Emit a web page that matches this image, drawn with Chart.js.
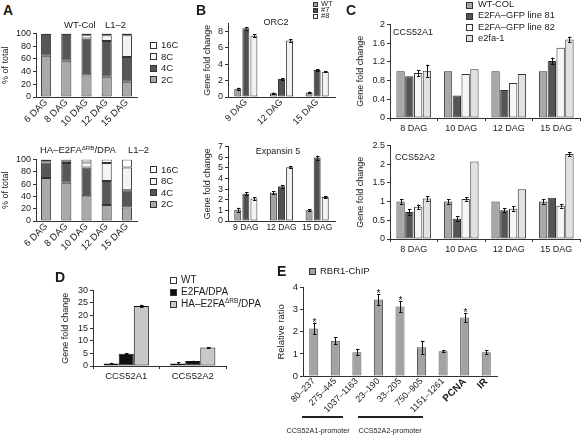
<!DOCTYPE html>
<html><head><meta charset="utf-8">
<script src="https://cdn.jsdelivr.net/npm/chart.js@4.4.1/dist/chart.umd.min.js"></script>
<style>
body{margin:0;background:#fff;}
#fig{position:relative;width:582px;height:437px;overflow:hidden;font-family:'Liberation Sans',Arial,Helvetica,sans-serif;color:#1a1a1a;background:#fff;}
#fig canvas{position:absolute;}
.t{position:absolute;white-space:nowrap;line-height:1;}
.t sup{font-size:65%;vertical-align:0;position:relative;top:-0.55em;}
.sw{position:absolute;border:1px solid #333;box-sizing:border-box;}
.ln{position:absolute;background:#222;}
</style></head><body><div id="fig"></div>
<script>
// ---------- Panel A : ploidy distribution (% of total) ----------
const daysA = ['6 DAG', '8 DAG', '10 DAG', '12 DAG', '15 DAG'];
const ploidyClasses = ['2C', '4C', '8C', '16C'];
const ticksA = [0, 20, 40, 60, 80, 100];
const wtCol2C  = [65, 57, 34, 32, 24];
const wtCol4C  = [34, 42, 58, 56, 39];
const wtCol8C  = [0.5, 0.5, 5, 9, 34];
const wtCol16C = [0.5, 0.5, 3, 3, 3];
const haE2fa2C  = [70, 62, 40, 26, 22];
const haE2fa4C  = [25, 32, 47, 39, 28];
const haE2fa8C  = [2, 2, 8, 29, 37];
const haE2fa16C = [3, 4, 5, 6, 13];

// ---------- Panel B : ORC2 / Expansin 5 ----------
const daysB = ['9 DAG', '12 DAG', '15 DAG'];
const linesB = ['WT', '#7', '#8'];
const ticksORC2 = [0, 2, 4, 6, 8];
const ticksEXP5 = [0, 1, 2, 3, 4, 5, 6, 7];
const orc2WT = [1.0, 0.45, 0.55];
const orc2L7 = [8.4, 2.2, 3.3];
const orc2L8 = [7.5, 6.9, 3.1];
const orc2WTErr = [0.15, 0.1, 0.12];
const orc2L7Err = [0.15, 0.12, 0.12];
const orc2L8Err = [0.15, 0.15, 0.1];
const exp5WT = [1.05, 2.65, 1.0];
const exp5L7 = [2.55, 3.25, 5.95];
const exp5L8 = [2.1, 5.05, 2.25];
const exp5WTErr = [0.2, 0.12, 0.1];
const exp5L7Err = [0.15, 0.12, 0.18];
const exp5L8Err = [0.12, 0.12, 0.1];

// ---------- Panel C : CCS52A1 / CCS52A2 ----------
const daysC = ['8 DAG', '10 DAG', '12 DAG', '15 DAG'];
const linesC = ['WT-COL', 'E2FA–GFP line 81', 'E2FA–GFP line 82', 'e2fa-1'];
const ticksA1 = [0, 0.4, 0.8, 1.2, 1.6, 2];
const ticksA2 = [0, 0.5, 1, 1.5, 2, 2.5];
const a1WT  = [1, 1, 1, 1];
const a1L81 = [0.89, 0.48, 0.6, 1.22];
const a1L82 = [0.96, 0.94, 0.75, 1.5];
const a1E2fa = [1.01, 1.04, 0.94, 1.68];
const a1WTErr  = [0, 0, 0, 0];
const a1L81Err = [0, 0, 0, 0.07];
const a1L82Err = [0.06, 0, 0, 0];
const a1E2faErr = [0.13, 0, 0, 0.06];
const a2WT  = [1, 1, 1, 1];
const a2L81 = [0.72, 0.54, 0.77, 1.1];
const a2L82 = [0.86, 1.07, 0.81, 0.89];
const a2E2fa = [1.08, 2.07, 1.33, 2.27];
const a2WTErr  = [0.06, 0.06, 0, 0.06];
const a2L81Err = [0.07, 0.07, 0.06, 0];
const a2L82Err = [0.06, 0.05, 0.06, 0.05];
const a2E2faErr = [0.06, 0, 0, 0.05];

// ---------- Panel D ----------
const genesD = ['CCS52A1', 'CCS52A2'];
const linesD = ['WT', 'E2FA/DPA', 'HA–E2FAΔRB/DPA'];
const ticksD = [0, 5, 10, 15, 20, 25, 30];
const dWT  = [1.0, 1.0];
const dE2fa = [4.9, 2.0];
const dHA  = [23.8, 7.3];
const dWTErr  = [0.3, 0.4];
const dE2faErr = [0.1, 0.1];
const dHAErr  = [0.5, 0.2];

// ---------- Panel E : RBR1-ChIP ----------
const regionsE = ['80–237', '275–445', '1037–1163', '23–190', '33–205', '750–905', '1151–1261', 'PCNA', 'IR'];
const boldRegionsE = ['PCNA', 'IR'];
const ticksE = [0, 1, 2, 3, 4];
const rbr1Ratio = [2.15, 1.6, 1.08, 3.47, 3.15, 1.3, 1.12, 2.65, 1.08];
const rbr1Err   = [0.27, 0.17, 0.15, 0.25, 0.25, 0.3, 0.05, 0.2, 0.1];
const rbr1Signif = [1, 0, 0, 1, 1, 0, 0, 1, 0];
const seriesE = ['RBR1-ChIP'];
const promoterGroups = ['CCS52A1-promoter', 'CCS52A2-promoter'];

// ================= drawing =================
const FONT = "'Liberation Sans', Arial, Helvetica, sans-serif";
Chart.defaults.font.family = FONT;
Chart.defaults.color = '#1a1a1a';
const fig = document.getElementById('fig');
const fmt = s => s.replace('ΔRB', '<sup>ΔRB</sup>');

function addText(html, x, y, size, o = {}) {
  const d = document.createElement('div');
  d.className = 't';
  d.innerHTML = html;
  d.style.left = x + 'px'; d.style.top = y + 'px';
  d.style.fontSize = size + 'px';
  d.style.transform = o.center ? 'translate(-50%,-50%)' : 'translate(0,-50%)';
  if (o.bold) d.style.fontWeight = 'bold';
  fig.appendChild(d);
  return d;
}
function addBox(x, yc, s, color) {
  const d = document.createElement('div');
  d.className = 'sw';
  d.style.left = x + 'px'; d.style.top = Math.round(yc - s / 2) + 'px';
  d.style.width = s + 'px'; d.style.height = s + 'px';
  d.style.background = color;
  fig.appendChild(d);
}
function addLine(x1, x2, y, h) {
  const d = document.createElement('div');
  d.className = 'ln';
  d.style.left = x1 + 'px'; d.style.top = y + 'px';
  d.style.width = (x2 - x1) + 'px'; d.style.height = h + 'px';
  fig.appendChild(d);
}
function legend(labels, colors, x, y0, dy, box, size, gap) {
  labels.forEach((l, i) => {
    addBox(x, y0 + i * dy, box, colors[i]);
    addText(fmt(l), x + box + gap, y0 + i * dy, size);
  });
}

const errorBars = {
  id: 'errorBars',
  afterDatasetsDraw(chart) {
    const ctx = chart.ctx, ys = chart.scales.y;
    chart.data.datasets.forEach((ds, di) => {
      if (!ds.errors) return;
      const meta = chart.getDatasetMeta(di);
      meta.data.forEach((bar, i) => {
        const e = ds.errors[i], v = ds.data[i];
        const x = Math.round(bar.x) + 0.5;
        let top = ys.getPixelForValue(v);
        if (e) {
          top = ys.getPixelForValue(v + e);
          const bot = ys.getPixelForValue(v - e);
          ctx.save();
          ctx.strokeStyle = '#111'; ctx.lineWidth = 1;
          ctx.beginPath();
          ctx.moveTo(x, top); ctx.lineTo(x, bot);
          ctx.moveTo(x - 1.5, Math.round(top) + 0.5); ctx.lineTo(x + 2, Math.round(top) + 0.5);
          ctx.moveTo(x - 1.5, Math.round(bot) + 0.5); ctx.lineTo(x + 2, Math.round(bot) + 0.5);
          ctx.stroke();
          ctx.restore();
        }
        if (ds.stars && ds.stars[i]) {
          ctx.save();
          ctx.fillStyle = '#111';
          ctx.font = '10px ' + FONT;
          ctx.textAlign = 'center'; ctx.textBaseline = 'alphabetic';
          ctx.fillText('*', x, top + 3);
          ctx.restore();
        }
      });
    });
  }
};

function makeChart(plot, c) {
  const padT = 7, padR = 3;
  const lh = c.yFont * 1.2;
  const left = Math.round(c.titleX - lh / 2);
  const yW = plot.l - left;
  const top = plot.t - padT;
  const w = plot.r + padR - left, h = plot.b + c.xH - top;
  const cv = document.createElement('canvas');
  cv.width = w; cv.height = h;
  cv.style.left = left + 'px'; cv.style.top = top + 'px';
  cv.style.width = w + 'px'; cv.style.height = h + 'px';
  fig.appendChild(cv);
  const gridCfg = (ticks) => ({ display: true, drawOnChartArea: false, drawTicks: ticks, tickLength: 3, color: '#333', lineWidth: 1 });
  return new Chart(cv, {
    type: 'bar',
    data: { labels: c.labels, datasets: c.datasets },
    options: {
      responsive: false, animation: false, devicePixelRatio: 1,
      layout: { padding: { left: 0, top: padT, right: padR, bottom: 0 } },
      plugins: { legend: { display: false }, tooltip: { enabled: false } },
      datasets: { bar: { categoryPercentage: c.cat, barPercentage: c.bar } },
      scales: {
        x: {
          stacked: !!c.stacked,
          afterFit: s => { s.height = c.xH; },
          ticks: { font: c.xFontFn || { size: c.xFont }, color: '#1a1a1a', minRotation: c.rot, maxRotation: c.rot, autoSkip: false, padding: c.rot ? 0 : 2 },
          grid: gridCfg(!!c.xTicks),
          border: { display: true, color: '#333', width: 1 }
        },
        y: {
          stacked: !!c.stacked,
          min: c.yTicks[0], max: c.yMax,
          afterFit: s => { s.width = yW; },
          afterBuildTicks: s => { s.ticks = c.yTicks.map(v => ({ value: v })); },
          ticks: { font: { size: c.yFont }, color: '#1a1a1a', padding: 2, autoSkip: false, callback: v => String(v) },
          grid: gridCfg(true),
          border: { display: true, color: '#333', width: 1 },
          title: { display: true, text: c.yTitle, font: { size: c.yFont }, color: '#1a1a1a', padding: 0 }
        }
      }
    },
    plugins: [errorBars]
  });
}

const ploidyColors = ['#a9a9a9', '#575757', '#f3f3f3', '#ffffff'];
const bar = (label, data, color, extra = {}) => Object.assign({ label, data, backgroundColor: color, borderColor: '#333', borderWidth: 1, borderSkipped: false }, extra);

// ---- A top
makeChart({ l: 36, r: 137, t: 33, b: 97 }, {
  labels: daysA, stacked: true, titleX: 5, yFont: 9, xFont: 9.5, rot: 45, xH: 34, cat: 1, bar: 0.5,
  yTicks: ticksA, yMax: 100, yTitle: '% of total',
  datasets: [wtCol2C, wtCol4C, wtCol8C, wtCol16C].map((d, i) => bar(ploidyClasses[i], d, ploidyColors[i]))
});
// ---- A bottom
makeChart({ l: 36, r: 137, t: 159, b: 221 }, {
  labels: daysA, stacked: true, titleX: 5, yFont: 9, xFont: 9.5, rot: 45, xH: 36, cat: 1, bar: 0.5,
  yTicks: ticksA, yMax: 100, yTitle: '% of total',
  datasets: [haE2fa2C, haE2fa4C, haE2fa8C, haE2fa16C].map((d, i) => bar(ploidyClasses[i], d, ploidyColors[i]))
});

// ---- B
const colorsB = ['#a3a3a3', '#505050', '#f2f2f2'];
makeChart({ l: 228, r: 335, t: 23, b: 97 }, {
  labels: daysB, titleX: 207, yFont: 9, xFont: 9, rot: 45, xH: 36, cat: 0.68, bar: 0.86,
  yTicks: ticksORC2, yMax: 9, yTitle: 'Gene fold change',
  datasets: [
    bar(linesB[0], orc2WT, colorsB[0], { errors: orc2WTErr }),
    bar(linesB[1], orc2L7, colorsB[1], { errors: orc2L7Err }),
    bar(linesB[2], orc2L8, colorsB[2], { errors: orc2L8Err })
  ]
});
makeChart({ l: 228, r: 335, t: 146, b: 221 }, {
  labels: daysB, titleX: 207, yFont: 9, xFont: 8.5, rot: 0, xH: 17, cat: 0.68, bar: 0.86,
  yTicks: ticksEXP5, yMax: 7, yTitle: 'Gene fold change',
  datasets: [
    bar(linesB[0], exp5WT, colorsB[0], { errors: exp5WTErr }),
    bar(linesB[1], exp5L7, colorsB[1], { errors: exp5L7Err }),
    bar(linesB[2], exp5L8, colorsB[2], { errors: exp5L8Err })
  ]
});

// ---- C
const colorsC = ['#a8a8a8', '#555555', '#f6f6f6', '#e2e2e2'];
makeChart({ l: 390, r: 580, t: 24, b: 118 }, {
  labels: daysC, titleX: 360, yFont: 9, xFont: 9, rot: 0, xH: 17, cat: 0.74, bar: 0.95, xTicks: true,
  yTicks: ticksA1, yMax: 2, yTitle: 'Gene fold change',
  datasets: [
    bar(linesC[0], a1WT, colorsC[0], { errors: a1WTErr }),
    bar(linesC[1], a1L81, colorsC[1], { errors: a1L81Err }),
    bar(linesC[2], a1L82, colorsC[2], { errors: a1L82Err }),
    bar(linesC[3], a1E2fa, colorsC[3], { errors: a1E2faErr })
  ]
});
makeChart({ l: 390, r: 580, t: 145, b: 239 }, {
  labels: daysC, titleX: 360, yFont: 9, xFont: 9, rot: 0, xH: 17, cat: 0.74, bar: 0.95, xTicks: true,
  yTicks: ticksA2, yMax: 2.5, yTitle: 'Gene fold change',
  datasets: [
    bar(linesC[0], a2WT, colorsC[0], { errors: a2WTErr }),
    bar(linesC[1], a2L81, colorsC[1], { errors: a2L81Err }),
    bar(linesC[2], a2L82, colorsC[2], { errors: a2L82Err }),
    bar(linesC[3], a2E2fa, colorsC[3], { errors: a2E2faErr })
  ]
});

// ---- D
const colorsD = ['#ffffff', '#111111', '#c8c8c8'];
makeChart({ l: 93, r: 226, t: 290, b: 366 }, {
  labels: genesD, titleX: 65, yFont: 9, xFont: 9.5, rot: 0, xH: 17, cat: 0.68, bar: 1, xTicks: true,
  yTicks: ticksD, yMax: 30, yTitle: 'Gene fold change',
  datasets: [
    bar(linesD[0], dWT, colorsD[0], { errors: dWTErr, borderColor: '#111' }),
    bar(linesD[1], dE2fa, colorsD[1], { errors: dE2faErr, borderColor: '#111' }),
    bar(linesD[2], dHA, colorsD[2], { errors: dHAErr, borderColor: '#111' })
  ]
});

// ---- E
makeChart({ l: 303, r: 497, t: 287, b: 376 }, {
  labels: regionsE, titleX: 282, yFont: 9.5, rot: 45, xH: 48, cat: 0.42, bar: 1,
  xFontFn: ctx => ({ size: boldRegionsE.includes(regionsE[ctx.index]) ? 10 : 9, weight: boldRegionsE.includes(regionsE[ctx.index]) ? 'bold' : 'normal' }),
  yTicks: ticksE, yMax: 4, yTitle: 'Relative ratio',
  datasets: [bar(seriesE[0], rbr1Ratio, '#a3a3a3', { errors: rbr1Err, stars: rbr1Signif, borderColor: '#555' })]
});

// ---- texts, legends, annotations
addText('A', 3, 10, 14, { bold: true });
addText('B', 196, 10, 14, { bold: true });
addText('C', 346, 10, 14, { bold: true });
addText('D', 55, 277, 14, { bold: true });
addText('E', 277, 271, 14, { bold: true });

addText('WT-Col', 64, 25, 9.5);
addText('L1–2', 105, 25, 9.5);
addText(fmt('HA–E2FAΔRB/DPA'), 40, 150, 9.5);
addText('L1–2', 128, 150, 9.5);

const legA = ploidyClasses.slice().reverse();
const legAColors = ploidyColors.slice().reverse();
legend(legA, legAColors, 150, 45, 11.5, 7, 9.5, 4);
legend(legA, legAColors, 150, 169.5, 11.5, 7, 9.5, 4);

addText('ORC2', 276, 22, 9, { center: true });
addText('Expansin 5', 278, 151, 9, { center: true });
legend(linesB, colorsB, 313, 4, 6, 5, 7.5, 3);

addText('CCS52A1', 393, 32, 9);
addText('CCS52A2', 395, 157, 9);
legend(linesC, colorsC, 466, 5, 11.3, 7, 9.3, 5);

legend(linesD, colorsD, 170, 280, 12, 7, 10, 4);

legend(seriesE, ['#a3a3a3'], 309, 271, 12, 7, 9.5, 4);
addLine(302, 343, 416, 1.5);
addLine(358, 423, 416, 1.5);
addText(promoterGroups[0], 318, 431, 7.2, { center: true });
addText(promoterGroups[1], 390, 431, 7.2, { center: true });
</script></body></html>
